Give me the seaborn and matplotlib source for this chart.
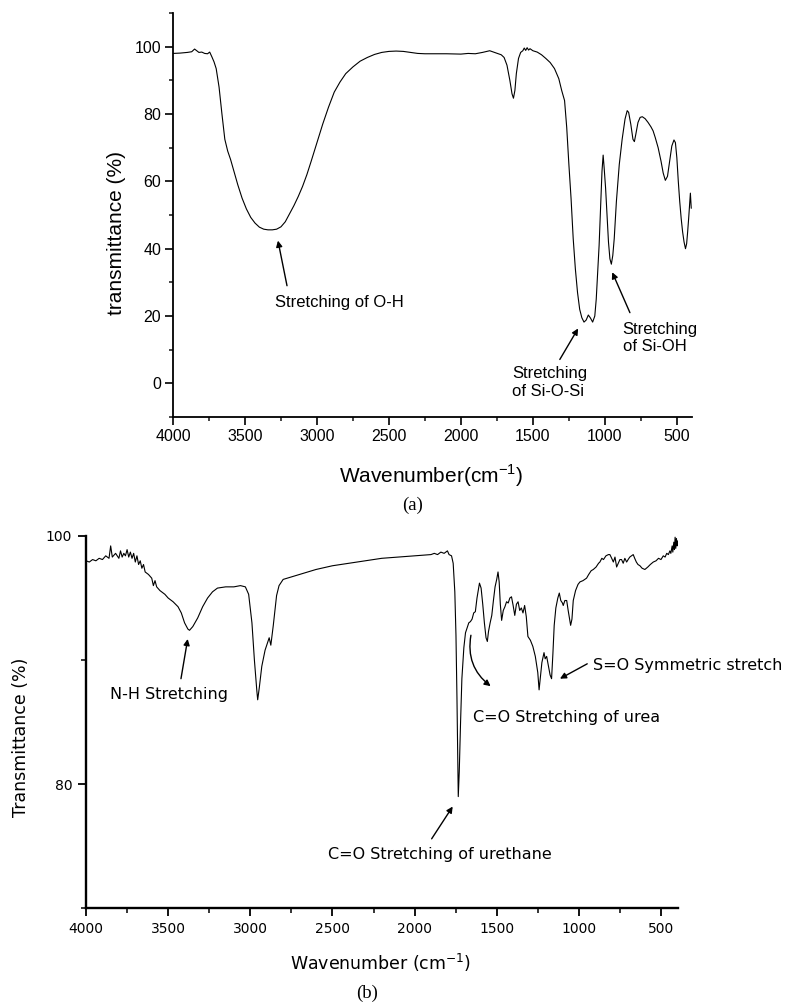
import matplotlib
matplotlib.use("Agg")
import matplotlib.pyplot as plt
from matplotlib.ticker import MultipleLocator, FixedLocator
import seaborn as sns

# ---- (a) FTIR spectrum of the silica network ----
wn_a = [4000, 3950, 3900, 3870, 3850, 3820, 3800, 3780, 3760, 3745, 3730, 3715,
        3700, 3680, 3660, 3640, 3620, 3600, 3580, 3550, 3520, 3490, 3460, 3430,
        3400, 3370, 3340, 3310, 3280, 3250, 3220, 3190, 3160, 3130, 3100, 3070,
        3040, 3000, 2960, 2920, 2880, 2840, 2800, 2750, 2700, 2650, 2600, 2550,
        2500, 2450, 2400, 2350, 2300, 2250, 2200, 2100, 2000, 1950, 1900, 1850,
        1800, 1760, 1720, 1700, 1680, 1660, 1645, 1635, 1625, 1615, 1600, 1585,
        1570, 1560, 1550, 1540, 1530, 1520, 1500, 1470, 1440, 1410, 1380, 1350,
        1320, 1300, 1280, 1265, 1250, 1235, 1220, 1205, 1190, 1175, 1160, 1145,
        1130, 1115, 1100, 1085, 1070, 1060, 1050, 1040, 1030, 1020, 1012, 1005,
        995, 985, 975, 965, 955, 945, 935, 920, 900, 880, 860, 845, 835, 820,
        805, 795, 785, 770, 755, 740, 720, 700, 680, 665, 650, 630, 610, 595,
        580, 565, 550, 535, 520, 510, 500, 490, 480, 470, 460, 450, 440, 432,
        425, 418, 412, 406, 400]
t_a = [98.0, 98.1, 98.3, 98.5, 99.3, 98.3, 98.4, 98.0, 97.9, 98.4, 97.0, 95.5,
       93.5, 88.0, 80.0, 72.5, 69.0, 66.5, 63.5, 59.0, 55.0, 51.8, 49.3, 47.6,
       46.4, 45.8, 45.6, 45.6, 45.8, 46.5, 48.0, 50.4, 52.8, 55.5, 58.5, 62.0,
       66.0, 71.5, 77.0, 82.0, 86.5, 89.5, 92.0, 94.0, 95.7, 96.8, 97.7, 98.3,
       98.6, 98.7, 98.6, 98.3, 98.0, 97.9, 97.9, 97.9, 97.8, 98.0, 97.9, 98.3,
       98.8, 98.2, 97.6, 96.8, 94.5, 90.0, 86.0, 84.7, 87.0, 92.0, 96.5, 98.3,
       98.8, 99.6, 98.9, 99.7, 99.0, 99.4, 98.8, 98.4, 97.6, 96.5, 95.3, 93.5,
       90.5, 87.0, 84.0, 76.0, 65.0, 55.0, 43.0, 34.0, 27.0, 22.0, 19.5, 18.2,
       18.8, 20.3, 19.4, 18.2, 20.0, 25.0, 33.0, 41.0, 52.0, 63.0, 67.8, 64.0,
       58.0, 50.0, 42.0, 37.0, 35.4, 38.0, 43.0, 54.0, 65.0, 72.5, 78.5, 81.0,
       80.5, 77.0, 72.5, 71.8, 74.0, 77.5, 79.0, 79.2, 78.6, 77.5, 76.2, 75.0,
       73.0, 70.0, 66.0, 62.5, 60.3, 61.5, 66.0, 70.5, 72.3, 71.5, 67.0, 60.0,
       54.0, 49.0, 45.0, 42.0, 40.0, 41.5, 45.0, 49.0, 53.0, 56.5, 52.0]

# ---- (b) FTIR spectrum of the polyurethane-urea ----
wn_b = [4000, 3980, 3960, 3940, 3920, 3900, 3880, 3860, 3850, 3840, 3820, 3800,
        3790, 3780, 3770, 3760, 3750, 3740, 3730, 3720, 3710, 3700, 3690, 3680,
        3670, 3660, 3650, 3640, 3620, 3600, 3590, 3580, 3570, 3550, 3520, 3500,
        3470, 3440, 3420, 3400, 3380, 3370, 3350, 3320, 3290, 3260, 3230, 3200,
        3150, 3100, 3060, 3030, 3010, 2990, 2975, 2960, 2955, 2945, 2930, 2910,
        2890, 2885, 2875, 2860, 2850, 2840, 2825, 2800, 2750, 2700, 2600, 2500,
        2400, 2300, 2200, 2100, 2000, 1900, 1880, 1860, 1840, 1820, 1800, 1790,
        1775, 1765, 1755, 1748, 1742, 1738, 1734, 1728, 1720, 1712, 1700, 1690,
        1680, 1670, 1660, 1650, 1640, 1630, 1620, 1605, 1595, 1585, 1575, 1565,
        1557, 1550, 1540, 1530, 1520, 1510, 1500, 1492, 1485, 1478, 1470, 1460,
        1450, 1440, 1430, 1420, 1410, 1400, 1390, 1380, 1370, 1360, 1350, 1340,
        1330, 1320, 1310, 1295, 1280, 1265, 1250, 1242, 1235, 1225, 1212, 1205,
        1196, 1185, 1175, 1166, 1158, 1150, 1140, 1128, 1119, 1110, 1100, 1095,
        1085, 1074, 1065, 1055, 1050, 1042, 1034, 1020, 1005, 993, 975, 953,
        940, 925, 912, 895, 880, 872, 860, 850, 835, 820, 811, 800, 790, 780,
        770, 760, 750, 740, 730, 720, 709, 700, 690, 680, 669, 660, 650, 640,
        628, 615, 598, 580, 565, 547, 530, 515, 500, 486, 475, 465, 455, 446,
        440, 432, 428, 422, 418, 414, 410, 406, 402, 400]
t_b = [98.0, 97.9, 98.1, 98.0, 98.2, 98.1, 98.4, 98.2, 99.2, 98.3, 98.6, 98.2,
       98.8, 98.3, 98.6, 98.4, 98.9, 98.3, 98.7, 98.2, 98.6, 97.9, 98.4, 97.7,
       98.0, 97.4, 97.7, 97.1, 96.9, 96.6, 96.0, 96.4, 95.9, 95.6, 95.3, 95.0,
       94.7, 94.3, 93.8, 93.0, 92.5, 92.4, 92.7, 93.4, 94.3, 95.0, 95.5, 95.8,
       95.9, 95.9, 96.0, 95.9, 95.3, 93.0, 90.0, 87.5, 86.8, 87.8, 89.5, 90.8,
       91.6, 91.8, 91.2, 92.8, 94.0, 95.2, 96.0, 96.5, 96.7, 96.9, 97.3, 97.6,
       97.8, 98.0, 98.2, 98.3, 98.4, 98.5, 98.6, 98.5, 98.7, 98.6, 98.8, 98.5,
       98.4, 97.8, 95.5, 92.0, 87.0, 83.0, 79.0, 81.0, 85.0, 88.5, 91.0, 92.2,
       92.6, 93.0, 93.1, 93.3, 93.8, 93.9, 95.0, 96.2, 95.8, 94.5, 93.0, 91.8,
       91.5, 92.3, 93.0, 93.6, 94.8, 95.9, 96.5, 97.1, 96.3, 94.5, 93.2, 94.0,
       94.3, 94.7, 94.6, 95.0, 95.1, 94.4, 93.6, 94.5, 94.7, 94.0, 94.2, 93.8,
       94.4, 93.5, 91.9, 91.6, 91.1, 90.3, 89.0, 87.6, 88.5, 89.8, 90.6, 90.1,
       90.3, 89.5, 88.8, 88.5, 90.5, 92.8, 94.2, 95.0, 95.4, 94.8, 94.6, 94.4,
       94.8, 94.8, 94.0, 93.2, 92.8, 93.3, 94.8, 95.6, 96.1, 96.3, 96.4, 96.6,
       96.9, 97.2, 97.3, 97.5, 97.8, 97.9, 98.2, 98.1, 98.4, 98.5, 98.5, 98.2,
       97.9, 98.3, 97.5, 97.8, 98.1, 98.1, 97.8, 98.2, 97.9, 98.1, 98.3, 98.4,
       98.5, 98.2, 97.9, 97.7, 97.6, 97.4, 97.3, 97.5, 97.7, 97.9, 98.0, 98.2,
       98.1, 98.4, 98.3, 98.6, 98.5, 98.8, 98.6, 99.2, 98.7, 99.5, 98.9, 99.9,
       99.0, 99.8, 99.2, 99.6]

x_ticks = [4000, 3500, 3000, 2500, 2000, 1500, 1000, 500]

sns.set_style("ticks")
plt.rcParams["font.family"] = ["Liberation Sans", "DejaVu Sans"]
plt.rcParams["text.color"] = "black"
plt.rcParams["axes.labelcolor"] = "black"

fig = plt.figure(figsize=(7.95, 10.02), dpi=100)
ax1 = fig.add_axes([0.2176, 0.5838, 0.6528, 0.4032])
ax2 = fig.add_axes([0.1082, 0.0935, 0.7443, 0.3716])

# ---------------- panel (a) ----------------
sns.lineplot(x=wn_a, y=t_a, ax=ax1, color="black", linewidth=0.8,
             sort=False, estimator=None)
ax1.set_xlim(4000, 395)
ax1.set_ylim(-10, 110)
ax1.set_xticks(x_ticks)
ax1.xaxis.set_minor_locator(MultipleLocator(250))
ax1.set_yticks([0, 20, 40, 60, 80, 100])
ax1.yaxis.set_minor_locator(MultipleLocator(10))
for s in ["top", "right"]:
    ax1.spines[s].set_visible(False)
for s in ["left", "bottom"]:
    ax1.spines[s].set_linewidth(1.3)
    ax1.spines[s].set_color("black")
ax1.tick_params(which="major", direction="out", length=5.5, width=1.2,
                labelsize=11.5, pad=3, colors="black")
ax1.tick_params(which="minor", direction="out", length=3, width=1.2)
ax1.set_xlabel("Wavenumber(cm$^{\\mathregular{-1}}$)", fontsize=15)
ax1.set_ylabel("transmittance (%)", fontsize=15)
ax1.xaxis.set_label_coords(0.498, -0.112)
ax1.yaxis.set_label_coords(-0.091, 0.455)

arw = dict(arrowstyle="-|>", color="black", lw=1.0, mutation_scale=9,
           shrinkA=0, shrinkB=0)
ax1.annotate("", xy=(3271, 42.4), xytext=(3208, 29), arrowprops=arw)
ax1.text(3292, 23.9, "Stretching of O-H", fontsize=12, ha="left", va="center")
ax1.annotate("", xy=(1186, 16.3), xytext=(1313, 7.1), arrowprops=arw)
ax1.text(1646, 0.2, "Stretching\nof Si-O-Si", fontsize=12, ha="left",
         va="center", linespacing=1.2)
ax1.annotate("", xy=(949, 33), xytext=(826, 21), arrowprops=arw)
ax1.text(877, 13.4, "Stretching\nof Si-OH", fontsize=12, ha="left",
         va="center", linespacing=1.2)

# ---------------- panel (b) ----------------
fam_b = ["DejaVu Sans"]
sns.lineplot(x=wn_b, y=t_b, ax=ax2, color="black", linewidth=0.8,
             sort=False, estimator=None)
ax2.set_xlim(4000, 398)
ax2.set_ylim(70, 100)
ax2.set_xticks(x_ticks)
ax2.xaxis.set_minor_locator(MultipleLocator(250))
ax2.set_yticks([80, 100])
ax2.yaxis.set_minor_locator(FixedLocator([70, 90]))
for s in ["top", "right"]:
    ax2.spines[s].set_visible(False)
for s in ["left", "bottom"]:
    ax2.spines[s].set_linewidth(1.7)
    ax2.spines[s].set_color("black")
ax2.tick_params(which="major", direction="out", length=6, width=1.3,
                labelsize=10, pad=4, colors="black")
ax2.tick_params(which="minor", direction="out", length=3.5, width=1.3)
for lab in ax2.get_xticklabels() + ax2.get_yticklabels():
    lab.set_family(fam_b)
ax2.set_xlabel("Wavenumber (cm$^{\\mathregular{-1}}$)", fontsize=12.5,
               family=fam_b)
ax2.set_ylabel("Transmittance (%)", fontsize=12.5, family=fam_b)
ax2.xaxis.set_label_coords(0.4986, -0.117)
ax2.yaxis.set_label_coords(-0.0946, 0.458)

ax2.annotate("", xy=(3381, 91.7), xytext=(3422, 88.5), arrowprops=arw)
ax2.text(3854, 87.2, "N-H Stretching", fontsize=11.5, ha="left",
         va="center", family=fam_b)
ax2.annotate("", xy=(1768, 78.2), xytext=(1896, 75.6), arrowprops=arw)
ax2.text(2526, 74.3, "C=O Stretching of urethane", fontsize=11.5, ha="left",
         va="center", family=fam_b)
arw_c = dict(arw, connectionstyle="arc3,rad=0.3")
ax2.annotate("", xy=(1537, 87.9), xytext=(1657, 92.0), arrowprops=arw_c)
ax2.text(1646, 85.4, "C=O Stretching of urea", fontsize=11.5, ha="left",
         va="center", family=fam_b)
ax2.annotate("", xy=(1115, 88.5), xytext=(949, 89.7), arrowprops=arw,
             annotation_clip=False)
ax2.text(912, 89.6, "S=O Symmetric stretch", fontsize=11.5, ha="left",
         va="center", family=fam_b, clip_on=False)

# panel captions
fig.text(413 / 795, 1 - 505 / 1002, "(a)", fontsize=13.5, ha="center",
         va="center", family=["Liberation Serif"])
fig.text(367 / 795, 1 - 993 / 1002, "(b)", fontsize=13.5, ha="center",
         va="center", family=["Liberation Serif"])

fig.savefig("out.png", dpi=100)
